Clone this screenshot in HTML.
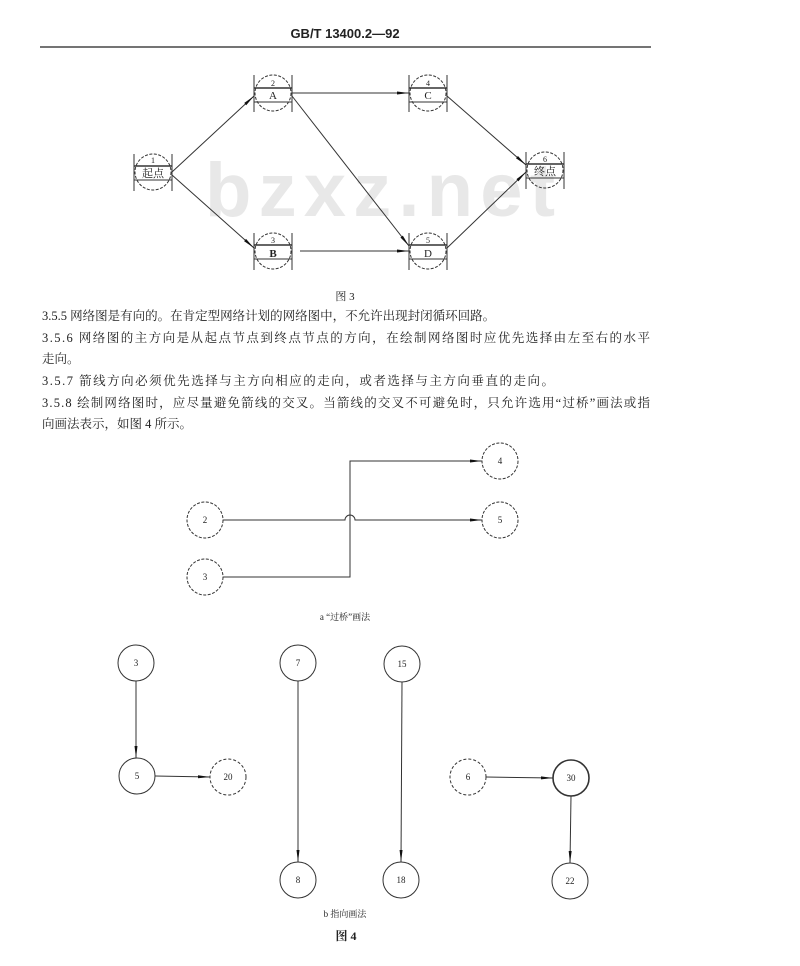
<!DOCTYPE html>
<html><head><meta charset="utf-8"><style>
html,body{margin:0;padding:0;background:#fff;}
svg{display:block;}
text{font-family:"Liberation Serif","Noto Serif CJK SC","Noto Sans CJK SC",serif;fill:#222;}
</style></head><body>
<svg width="800" height="966" viewBox="0 0 800 966" xmlns="http://www.w3.org/2000/svg">
<defs>
<marker id="ar" markerWidth="12" markerHeight="6" refX="12" refY="3" orient="auto" markerUnits="userSpaceOnUse">
<path d="M0,1.5 L12,3 L0,4.5 Z" fill="#111"/>
</marker>
</defs>
<text x="345" y="38" font-size="13" font-weight="bold" text-anchor="middle" style="font-family:'Liberation Sans',sans-serif">GB/T 13400.2—92</text>
<line x1="40" y1="47" x2="651" y2="47" stroke="#222" stroke-width="1.2"/>

<text x="380" y="216" font-size="76" font-weight="bold" text-anchor="middle" textLength="350" style="font-family:'Liberation Sans',sans-serif;fill:#e8e8e8">bzxz.net</text>

<g stroke="#333" stroke-width="1" fill="none">
<g transform="translate(153,172)"><circle r="18" stroke-dasharray="3,1.5"/><line x1="-19" y1="-18" x2="-19" y2="19"/><line x1="19" y1="-18" x2="19" y2="19"/><line x1="-19" y1="-6" x2="19" y2="-6" stroke-width="1.5"/><line x1="-19" y1="8" x2="19" y2="8"/></g>
<g transform="translate(273,93)"><circle r="18" stroke-dasharray="3,1.5"/><line x1="-19" y1="-18" x2="-19" y2="19"/><line x1="19" y1="-18" x2="19" y2="19"/><line x1="-19" y1="-5" x2="19" y2="-5" stroke-width="1.5"/><line x1="-19" y1="9" x2="19" y2="9"/></g>
<g transform="translate(428,93)"><circle r="18" stroke-dasharray="3,1.5"/><line x1="-19" y1="-18" x2="-19" y2="19"/><line x1="19" y1="-18" x2="19" y2="19"/><line x1="-19" y1="-5" x2="19" y2="-5" stroke-width="1.5"/><line x1="-19" y1="9" x2="19" y2="9"/></g>
<g transform="translate(273,251)"><circle r="18" stroke-dasharray="3,1.5"/><line x1="-19" y1="-18" x2="-19" y2="19"/><line x1="19" y1="-18" x2="19" y2="19"/><line x1="-19" y1="-6" x2="19" y2="-6" stroke-width="1.5"/><line x1="-19" y1="8" x2="19" y2="8"/></g>
<g transform="translate(428,251)"><circle r="18" stroke-dasharray="3,1.5"/><line x1="-19" y1="-18" x2="-19" y2="19"/><line x1="19" y1="-18" x2="19" y2="19"/><line x1="-19" y1="-6" x2="19" y2="-6" stroke-width="1.5"/><line x1="-19" y1="8" x2="19" y2="8"/></g>
<g transform="translate(545,170)"><circle r="18" stroke-dasharray="3,1.5"/><line x1="-19" y1="-18" x2="-19" y2="19"/><line x1="19" y1="-18" x2="19" y2="19"/><line x1="-19" y1="-6" x2="19" y2="-6" stroke-width="1.5"/><line x1="-19" y1="8" x2="19" y2="8"/></g>
</g>
<g font-size="11" text-anchor="middle">
<text x="153" y="163" font-size="8">1</text><text x="153" y="177">起点</text>
<text x="273" y="86" font-size="8">2</text><text x="273" y="99">A</text>
<text x="428" y="86" font-size="8">4</text><text x="428" y="99">C</text>
<text x="273" y="243" font-size="8">3</text><text x="273" y="257" font-weight="bold">B</text>
<text x="428" y="243" font-size="8">5</text><text x="428" y="257">D</text>
<text x="545" y="162" font-size="8">6</text><text x="545" y="175">终点</text>
</g>
<g stroke="#333" stroke-width="1" marker-end="url(#ar)">
<line x1="172" y1="172" x2="254" y2="96"/>
<line x1="172" y1="175" x2="254" y2="248"/>
<line x1="292" y1="93" x2="409" y2="93"/>
<line x1="292" y1="96" x2="409" y2="246"/>
<line x1="300" y1="251" x2="409" y2="251"/>
<line x1="447" y1="96" x2="526" y2="165"/>
<line x1="447" y1="248" x2="526" y2="172"/>
</g>

<text x="345" y="300" font-size="11" text-anchor="middle">图 3</text>
<g font-size="12.5">
<text x="42" y="320">3.5.5  网络图是有向的。在肯定型网络计划的网络图中，不允许出现封闭循环回路。</text>
<text x="42" y="342" textLength="608" lengthAdjust="spacing">3.5.6  网络图的主方向是从起点节点到终点节点的方向，在绘制网络图时应优先选择由左至右的水平</text>
<text x="42" y="363">走向。</text>
<text x="42" y="385" textLength="512" lengthAdjust="spacing">3.5.7  箭线方向必须优先选择与主方向相应的走向，或者选择与主方向垂直的走向。</text>
<text x="42" y="407" textLength="608" lengthAdjust="spacing">3.5.8  绘制网络图时，应尽量避免箭线的交叉。当箭线的交叉不可避免时，只允许选用“过桥”画法或指</text>
<text x="42" y="428">向画法表示，如图 4 所示。</text>
</g>

<g stroke="#333" stroke-width="1" fill="none">
<circle cx="500" cy="461" r="18" stroke-dasharray="3,1.5"/>
<circle cx="205" cy="520" r="18" stroke-dasharray="3,1.5"/>
<circle cx="500" cy="520" r="18" stroke-dasharray="3,1.5"/>
<circle cx="205" cy="577" r="18" stroke-dasharray="3,1.5"/>
<path d="M223,520 H345 A5,5 0 0 1 355,520 H482" marker-end="url(#ar)"/>
<path d="M223,577 H350 V461 H482" marker-end="url(#ar)"/>
</g>
<g font-size="9" text-anchor="middle">
<text x="500" y="464">4</text><text x="205" y="523">2</text><text x="500" y="523">5</text><text x="205" y="580">3</text>
<text x="345" y="620">a “过桥”画法</text>
</g>

<g stroke="#333" stroke-width="1" fill="none">
<circle cx="136" cy="663" r="18"/>
<circle cx="137" cy="776" r="18"/>
<circle cx="228" cy="777" r="18" stroke-dasharray="3,2"/>
<circle cx="298" cy="663" r="18"/>
<circle cx="298" cy="880" r="18"/>
<circle cx="402" cy="664" r="18"/>
<circle cx="401" cy="880" r="18"/>
<circle cx="468" cy="777" r="18" stroke-dasharray="3,2"/>
<circle cx="571" cy="778" r="18" stroke-width="1.6"/>
<circle cx="570" cy="881" r="18"/>
<g marker-end="url(#ar)">
<line x1="136" y1="681" x2="136" y2="758"/>
<line x1="155" y1="776" x2="210" y2="777"/>
<line x1="298" y1="681" x2="298" y2="862"/>
<line x1="402" y1="682" x2="401" y2="862"/>
<line x1="486" y1="777" x2="553" y2="778"/>
<line x1="571" y1="796" x2="570" y2="863"/>
</g>
</g>
<g font-size="9" text-anchor="middle">
<text x="136" y="666">3</text><text x="137" y="779">5</text><text x="228" y="780">20</text>
<text x="298" y="666">7</text><text x="298" y="883">8</text>
<text x="402" y="667">15</text><text x="401" y="883">18</text>
<text x="468" y="780">6</text><text x="571" y="781">30</text><text x="570" y="884">22</text>
<text x="345" y="917">b 指向画法</text>
</g>
<text x="346" y="940" font-size="12" text-anchor="middle" font-weight="bold">图 4</text>
</svg>
</body></html>
